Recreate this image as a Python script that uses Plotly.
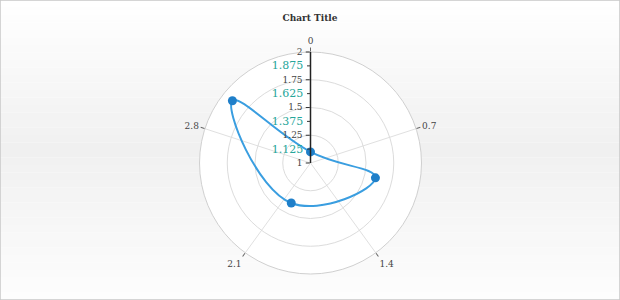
import plotly.graph_objects as go

# data
theta_vals = [0, 1, 2, 3]
r_vals = [1.1, 1.6, 1.4, 1.9]
angular_period = 3.5
angular_ticks = [0, 0.7, 1.4, 2.1, 2.8]
angular_ticklabels = ["0", "0.7", "1.4", "2.1", "2.8"]
radial_major = [1, 1.25, 1.5, 1.75, 2]
radial_major_labels = ["1", "1.25", "1.5", "1.75", "2"]
radial_minor = [1.125, 1.375, 1.625, 1.875]
radial_minor_labels = ["1.125", "1.375", "1.625", "1.875"]

to_deg = lambda v: v / angular_period * 360.0

W, H = 620, 300
cx, cy, R = 310.5, 163, 111
dom_x = [(cx - R) / W, (cx + R) / W]
dom_y = [(H - cy - R) / H, (H - cy + R) / H]

fig = go.Figure()

# closed spline line
line_theta = [to_deg(t) for t in theta_vals] + [to_deg(theta_vals[0])]
line_r = r_vals + [r_vals[0]]
fig.add_trace(go.Scatterpolar(
    theta=line_theta, r=line_r, mode="lines",
    line=dict(color="#3a9ee0", width=2, shape="spline", smoothing=1.3),
    hoverinfo="skip", showlegend=False, subplot="polar"))
fig.add_trace(go.Scatterpolar(
    theta=[to_deg(t) for t in theta_vals], r=r_vals, mode="markers",
    marker=dict(color="#1f7fc9", size=9),
    showlegend=False, subplot="polar"))
# invisible trace for overlay polar (minor labels)
fig.add_trace(go.Scatterpolar(
    theta=[0], r=[1], mode="markers", marker=dict(opacity=0),
    showlegend=False, hoverinfo="skip", subplot="polar2"))

serif = "DejaVu Serif"

# background gradient bands
shapes = []
n = 40
for i in range(n):
    f = i / (n - 1)
    if f < 0.5:
        g = 255 - (255 - 240) * (f / 0.5)
    else:
        g = 240 + (253 - 240) * ((f - 0.5) / 0.5)
    g = int(round(g))
    shapes.append(dict(type="rect", xref="paper", yref="paper",
                       x0=0, x1=1, y0=1 - (i + 1) / n, y1=1 - i / n,
                       fillcolor=f"rgb({g},{g},{g})", line=dict(width=0),
                       layer="below"))
shapes.append(dict(type="rect", xref="paper", yref="paper", x0=0, x1=1, y0=0, y1=1,
                   line=dict(color="#c8c8c8", width=1.5), fillcolor="rgba(0,0,0,0)",
                   layer="above"))

fig.update_layout(
    width=W, height=H,
    margin=dict(l=0, r=0, t=0, b=0),
    paper_bgcolor="white",
    shapes=shapes,
    title=dict(text="<b>Chart Title</b>", x=0.5, xanchor="center", y=1 - 18 / H,
               yanchor="middle", font=dict(family=serif, size=9, color="#333")),
    polar=dict(
        domain=dict(x=dom_x, y=dom_y),
        bgcolor="white",
        radialaxis=dict(
            range=[1, 2], angle=90, side="counterclockwise", tickangle=90,
            tickvals=radial_major, ticktext=radial_major_labels,
            ticks="outside", ticklen=4, tickcolor="#333",
            showline=True, linecolor="#222", linewidth=1.5,
            gridcolor="#dcdcdc", gridwidth=1,
            tickfont=dict(family=serif, size=9, color="#444"),
        ),
        angularaxis=dict(
            rotation=90, direction="clockwise",
            tickvals=[to_deg(v) for v in angular_ticks], ticktext=angular_ticklabels,
            ticks="outside", ticklen=4, tickcolor="#666",
            showline=True, linecolor="#d0d0d0", linewidth=1,
            gridcolor="#e0e0e0", gridwidth=1,
            tickfont=dict(family=serif, size=9, color="#444"),
        ),
    ),
    polar2=dict(
        domain=dict(x=dom_x, y=dom_y),
        bgcolor="rgba(0,0,0,0)",
        radialaxis=dict(
            range=[1, 2], angle=90, side="counterclockwise", tickangle=90,
            tickvals=radial_minor, ticktext=radial_minor_labels,
            ticks="outside", ticklen=3, tickcolor="#333",
            showline=False, showgrid=False,
            tickfont=dict(family=serif, size=11, color="#26a69a"),
        ),
        angularaxis=dict(
            rotation=90, direction="clockwise",
            showline=False, showgrid=False, showticklabels=False, ticks="",
        ),
    ),
)

fig.write_html("out.html")
